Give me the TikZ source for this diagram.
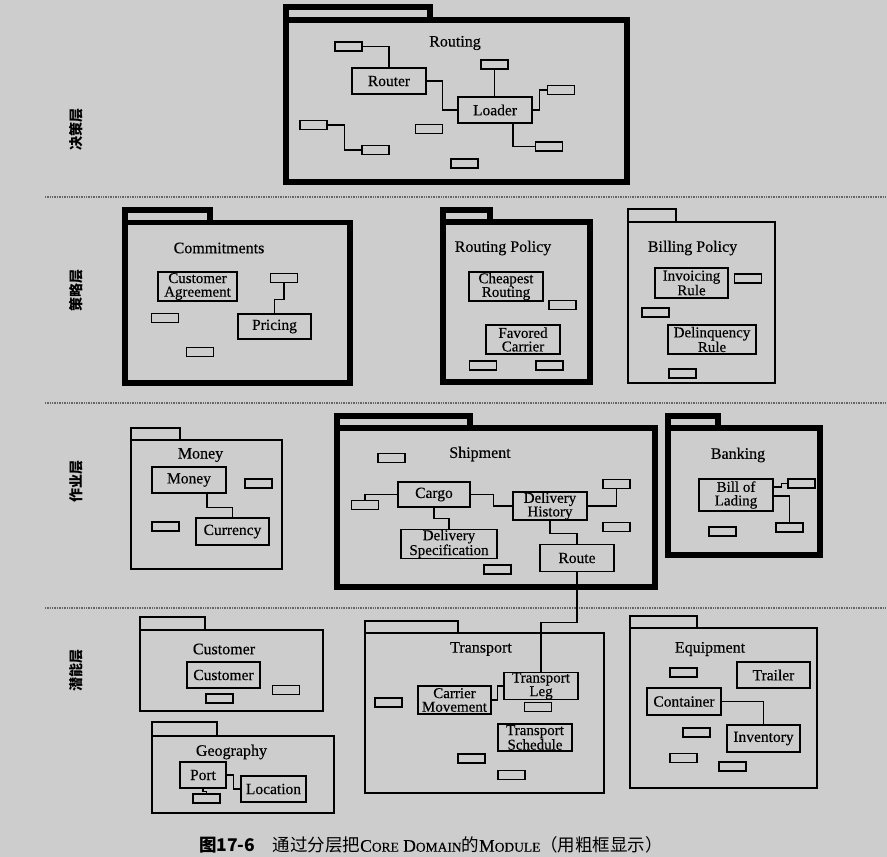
\documentclass[tikz,border=0pt]{standalone}
\usepackage{fontspec}
\setmainfont{Liberation Serif}[FakeBold=0.35]
\newfontfamily\cjk{Noto Sans CJK SC}
\definecolor{bgc}{RGB}{205,205,205}
\newcommand\smc[1]{{\fontsize{13.5}{13.5}\selectfont #1}}
\begin{document}
\begin{tikzpicture}[x=1pt,y=-1pt,
 cls/.style={draw, line width=1.1pt, inner sep=0pt, align=center, font=\fontsize{15.5}{13.6}\selectfont},
 cls2/.style={cls, font=\fontsize{15}{13.6}\selectfont},
 sm/.style={draw, line width=1.1pt, minimum width=27pt, minimum height=9pt, inner sep=0pt},
 thickpk/.style={draw, line width=5.5pt, line join=miter},
 thinpk/.style={draw, line width=1.1pt},
 ttl/.style={font=\fontsize{16}{16}\selectfont, inner sep=0pt},
 conn/.style={draw, line width=1.1pt},
 layer/.style={rotate=90, font=\cjk\bfseries\fontsize{14}{14}\selectfont, inner sep=0pt},
 sep/.style={line width=1.8pt, black!60, dash pattern=on 1pt off 0.7pt}
]
\fill[bgc] (0,0) rectangle (887,857);
\useasboundingbox (0,0) rectangle (887,857);

% separators
\draw[sep] (45,197) -- (887,197);
\draw[sep] (45,403) -- (887,403);
\draw[sep] (45,608) -- (887,608);

% layer labels
\node[layer] (l1) at (76,129) {决策层};
\node[layer] (l2) at (76,290) {策略层};
\node[layer] (l3) at (76,481) {作业层};
\node[layer] (l4) at (76,670) {潜能层};

% ---------- Routing (thick)
\draw[thickpk] (286,7) rectangle (430,20);
\draw[thickpk] (286,20) rectangle (627,182);
\node[ttl] (tRouting) at (455,43) {Routing};
\node[cls, minimum width=74pt, minimum height=26pt] (router) at (389,81) {Router};
\node[cls, minimum width=74pt, minimum height=26pt] (loader) at (495,110) {Loader};
\node[sm] (r1) at (348.5,46.5) {};
\node[sm] (r2) at (494.5,64.5) {};
\node[sm] (r3) at (561,90) {};
\node[sm] (r4) at (313.5,125) {};
\node[sm] (r5) at (375.5,150) {};
\node[sm] (r6) at (429,129) {};
\node[sm] (r7) at (549,146.5) {};
\node[sm] (r8) at (464.5,163.5) {};
\draw[conn] (r1.east) -| (router.north);
\draw[conn] (r2.south) -- (r2.south |- loader.north);
\draw[conn] (loader.east) -- ++(7,0) |- (r3.west);
\draw[conn] (r4.east) -- ++(17,0) |- (r5.west);
\draw[conn] ([xshift=18pt]loader.south) |- (r7.west);
\draw[conn] (router.east) -- ++(16,0) |- (loader.west);

% ---------- Commitments (thick)
\draw[thickpk] (125,210) rectangle (210,222.5);
\draw[thickpk] (125,222.5) rectangle (350,383);
\node[ttl] (tCommit) at (219,248) {Commitments};
\node[cls2, minimum width=79pt, minimum height=29pt] (custagr) at (197.5,286.5) {Customer\\Agreement};
\node[cls, minimum width=73pt, minimum height=25pt] (pricing) at (274.5,326.5) {Pricing};
\node[sm] (c1) at (284,278) {};
\node[sm] (c2) at (165,318) {};
\node[sm] (c3) at (200,352) {};
\draw[conn] (c1.south) -- ++(0,16) -| (pricing.north);

% ---------- Routing Policy (thick)
\draw[thickpk] (443,210) rectangle (490,222);
\draw[thickpk] (443,222) rectangle (590,382);
\node[ttl] (tRP) at (503,248) {Routing Policy};
\node[cls2, minimum width=74pt, minimum height=29pt] (cheapest) at (506,286.5) {Cheapest\\Routing};
\node[cls2, minimum width=74pt, minimum height=29pt] (favored) at (523,339.5) {Favored\\Carrier};
\node[sm] (p1) at (562.5,305) {};
\node[sm] (p2) at (483,365.5) {};
\node[sm] (p3) at (549.5,365.5) {};

% ---------- Billing Policy (thin)
\draw[thinpk] (628,209) rectangle (676,222);
\draw[thinpk] (628,222) rectangle (775,383);
\node[ttl] (tBP) at (692.5,248) {Billing Policy};
\node[cls2, minimum width=73pt, minimum height=30pt] (invoicing) at (691.5,283) {Invoicing\\Rule};
\node[cls2, minimum width=88pt, minimum height=29pt] (delinq) at (712,339.5) {Delinquency\\Rule};
\node[sm] (b1) at (748,278.5) {};
\node[sm] (b2) at (655.5,312.5) {};
\node[sm] (b3) at (682.5,373.5) {};

% ---------- Money (thin)
\draw[thinpk] (131,428) rectangle (180,440);
\draw[thinpk] (131,440) rectangle (282,569);
\node[ttl] (tMoney) at (200.5,455) {Money};
\node[cls, minimum width=74pt, minimum height=26pt] (moneybox) at (189,480) {Money};
\node[cls, minimum width=73pt, minimum height=27pt] (currency) at (232.5,531.5) {Currency};
\node[sm] (m1) at (258.5,483.5) {};
\node[sm] (m2) at (165.5,526.5) {};
\draw[conn] ([xshift=18pt]moneybox.south) -- ++(0,14) -| (currency.north);

% ---------- Shipment (thick)
\draw[thickpk] (337,416) rectangle (470,428);
\draw[thickpk] (337,428) rectangle (655,587);
\node[ttl] (tShip) at (480,454) {Shipment};
\node[cls, minimum width=72pt, minimum height=25pt] (cargo) at (434,494.5) {Cargo};
\node[cls2, minimum width=74pt, minimum height=28pt] (delhist) at (550,506) {Delivery\\History};
\node[cls2, minimum width=96pt, minimum height=28pt] (delspec) at (449,544) {Delivery\\Specification};
\node[cls, minimum width=74pt, minimum height=27pt] (route) at (577,558) {Route};
\node[sm] (s1) at (391.5,458) {};
\node[sm] (s2) at (365,505) {};
\node[sm] (s3) at (616.5,484) {};
\node[sm] (s4) at (616.5,527) {};
\node[sm] (s5) at (497.5,569.5) {};
\draw[conn] (s2.north) |- (cargo.west);
\draw[conn] (cargo.east) -- ++(23,0) |- (delhist.west);
\draw[conn] (cargo.south) -- ++(0,11) -| (delspec.north);
\draw[conn] (delhist.east) -| (s3.south);
\draw[conn] (delhist.south) -- ++(0,13) -| (route.north);

% ---------- Banking (thick)
\draw[thickpk] (668,416) rectangle (718,428);
\draw[thickpk] (668,428) rectangle (820,555);
\node[ttl] (tBank) at (738,455) {Banking};
\node[cls2, minimum width=74pt, minimum height=32pt] (bol) at (736,495) {Bill of\\Lading};
\node[sm] (k1) at (801.5,483.5) {};
\node[sm] (k2) at (789.5,527.5) {};
\node[sm] (k3) at (722.5,531.5) {};
\draw[conn] ([yshift=8pt]bol.east) -- ++(8,0) |- (k1.west);
\draw[conn] ([yshift=-1pt]bol.east) -| (k2.north);

% ---------- Customer (thin)
\draw[thinpk] (140,617) rectangle (205,630);
\draw[thinpk] (140,630) rectangle (323,711);
\node[ttl] (tCust) at (224,649) {Customer};
\node[cls, minimum width=73pt, minimum height=26pt] (custbox) at (223.5,675) {Customer};
\node[sm] (u1) at (286,690) {};
\node[sm] (u2) at (219.5,698.5) {};

% ---------- Geography (thin)
\draw[thinpk] (152,722) rectangle (217,736);
\draw[thinpk] (152,736) rectangle (334,813);
\node[ttl] (tGeo) at (231.5,752) {Geography};
\node[cls, minimum width=46pt, minimum height=26pt] (port) at (203,775) {Port};
\node[cls, minimum width=65pt, minimum height=26pt] (location) at (273.5,789) {Location};
\node[sm] (g1) at (206.5,798.5) {};
\draw[conn] (port.east) -- ++(7,0) |- (location.west);
\draw[conn] (port.south) -- ++(0,3) -| (g1.north);

% ---------- Transport (thin)
\draw[thinpk] (365,621) rectangle (458,633);
\draw[thinpk] (365,633) rectangle (604,793);
\node[ttl] (tTrans) at (481,649) {Transport};
\node[cls2, minimum width=73pt, minimum height=28pt] (carrier) at (454.5,700) {Carrier\\Movement};
\node[cls2, minimum width=74pt, minimum height=27pt] (tleg) at (541,686) {Transport\\Leg};
\node[cls2, minimum width=74pt, minimum height=27pt] (tsched) at (535,737.5) {Transport\\Schedule};
\node[sm] (t1) at (388.5,702.5) {};
\node[sm] (t2) at (538,707) {};
\node[sm] (t3) at (471.5,758.5) {};
\node[sm] (t4) at (511.5,775) {};
\draw[conn] (carrier.east) -- ++(6,0) |- (tleg.west);
\draw[conn] (route.south) -- ++(0,50.5) -| (tleg.north);

% ---------- Equipment (thin)
\draw[thinpk] (630,616) rectangle (697,628);
\draw[thinpk] (630,628) rectangle (817,788);
\node[ttl] (tEquip) at (710,649) {Equipment};
\node[cls, minimum width=73pt, minimum height=26pt] (trailer) at (773.5,675) {Trailer};
\node[cls, minimum width=74pt, minimum height=27pt] (container) at (684,701.5) {Container};
\node[cls, minimum width=73pt, minimum height=27pt] (inventory) at (763.5,738.5) {Inventory};
\node[sm] (e1) at (683.5,672.5) {};
\node[sm] (e2) at (696.5,732.5) {};
\node[sm] (e3) at (683.5,758) {};
\node[sm] (e4) at (732.5,766.5) {};
\draw[conn] (container.east) -| (inventory.north);

% caption
\node[font=\fontsize{17.5}{17.5}\selectfont, inner sep=0pt] (cap) at (431,845)
 {{\cjk\bfseries 图17-6}\hspace{1em}{\cjk 通过分层把}C\smc{ORE} D\smc{OMAIN}{\cjk 的}M\smc{ODULE}{\cjk （用粗框显示）}};
\end{tikzpicture}
\end{document}
